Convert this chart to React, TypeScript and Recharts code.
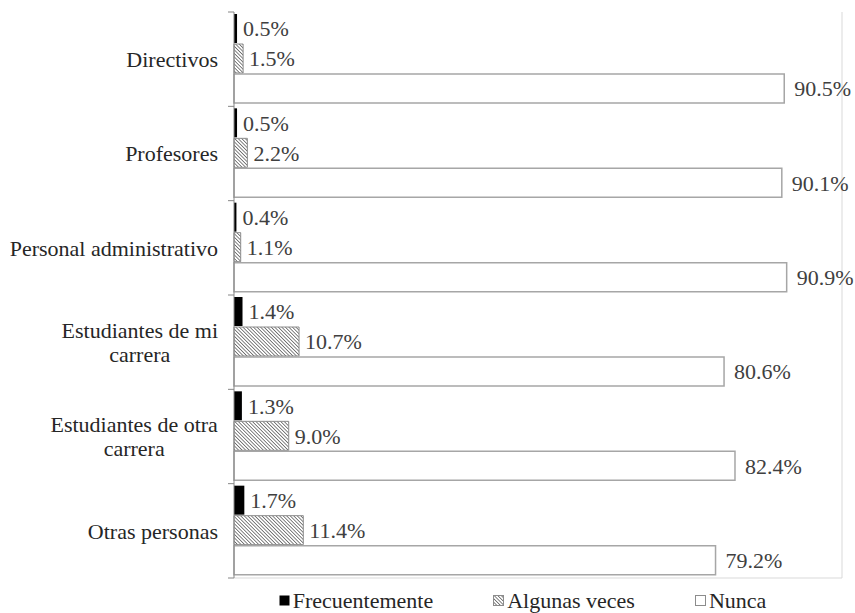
import React, { useLayoutEffect, useRef, useState } from "react";
import { Bar, BarChart, LabelList, Legend, ReferenceLine, XAxis, YAxis } from "recharts";

const categories = [
  "Directivos",
  "Profesores",
  "Personal administrativo",
  "Estudiantes de mi\ncarrera",
  "Estudiantes de otra\ncarrera",
  "Otras personas",
];
const frecuentemente = [0.5, 0.5, 0.4, 1.4, 1.3, 1.7];
const algunasVeces = [1.5, 2.2, 1.1, 10.7, 9.0, 11.4];
const nunca = [90.5, 90.1, 90.9, 80.6, 82.4, 79.2];

const data = categories.map((name, i) => ({
  name,
  frecuentemente: frecuentemente[i],
  algunasVeces: algunasVeces[i],
  nunca: nunca[i],
}));

const FONT = "Liberation Serif";
const AXIS_GRAY = "#868686";
const PLOT_TOP = 12;
const PLOT_HEIGHT = 566;
const BAND = PLOT_HEIGHT / categories.length;

// etiqueta de categoría: bloque centrado, alineado a la derecha del eje
function CategoryTick(props: any) {
  const { x, y, payload, index } = props;
  const ref = useRef<SVGTextElement>(null);
  const [w, setW] = useState(0);
  const lines: string[] = String(payload.value).split("\n");
  useLayoutEffect(() => {
    if (ref.current) setW(ref.current.getBBox().width);
  }, [payload.value]);
  const right = x - 16;
  const lh = 24;
  return (
    <g>
      <line x1={x - 6} x2={x} y1={y - BAND / 2} y2={y - BAND / 2} stroke={AXIS_GRAY} />
      {index === categories.length - 1 && (
        <line x1={x - 6} x2={x} y1={y + BAND / 2} y2={y + BAND / 2} stroke={AXIS_GRAY} />
      )}
      <text ref={ref} textAnchor="middle" style={{ fontFamily: FONT, fontSize: 22 }} fill="#262626">
        {lines.map((l, i) => (
          <tspan key={i} x={right - w / 2} y={y + (i - (lines.length - 1) / 2) * lh} dy="0.35em">
            {l}
          </tspan>
        ))}
      </text>
    </g>
  );
}

const pct = (v: any) => `${Number(v).toFixed(1)}%`;

const legendItems = [
  { label: "Frecuentemente", fill: "#000", stroke: "none" },
  { label: "Algunas veces", fill: "url(#hatch)", stroke: "#8c8c8c" },
  { label: "Nunca", fill: "#fff", stroke: "#8c8c8c" },
];

function LegendContent() {
  return (
    <div
      style={{
        display: "flex",
        justifyContent: "center",
        alignItems: "center",
        height: 24,
        paddingLeft: 190,
        fontFamily: FONT,
        fontSize: 22,
        color: "#262626",
        gap: 60,
      }}
    >
      {legendItems.map((it) => (
        <div key={it.label} style={{ display: "flex", alignItems: "center" }}>
          <svg width={13} height={12} style={{ marginRight: 1 }}>
            <rect x={0.5} y={0.5} width={10} height={10} fill={it.fill} stroke={it.stroke} />
          </svg>
          <span>{it.label}</span>
        </div>
      ))}
    </div>
  );
}

const labelStyle = { fontFamily: FONT, fontSize: 22 };

export default function App() {
  return (
    <div style={{ position: "absolute", left: 0, top: 0, width: 855, height: 613, background: "#fff" }}>
      <svg width={0} height={0} style={{ position: "absolute" }}>
        <defs>
          <pattern id="hatch" width={2.5} height={2.5} patternUnits="userSpaceOnUse" patternTransform="rotate(-45)">
            <rect width={2.5} height={2.5} fill="#fff" />
            <line x1={0} y1={0} x2={0} y2={2.5} stroke="#5a5a5a" strokeWidth={1.5} />
          </pattern>
        </defs>
      </svg>
      <BarChart
        width={855}
        height={613}
        data={data}
        layout="vertical"
        margin={{ top: PLOT_TOP, right: 13, left: 0, bottom: 0 }}
        barCategoryGap={2}
        barGap={1}
        style={{ fontFamily: FONT }}
      >
        <XAxis type="number" domain={[0, 100]} tick={false} tickLine={false} axisLine={{ stroke: "#d9d9d9" }} height={11} />
        <YAxis
          type="category"
          dataKey="name"
          width={234}
          axisLine={{ stroke: AXIS_GRAY }}
          tickLine={false}
          tickSize={0}
          tickMargin={0}
          interval={0}
          tick={<CategoryTick />}
        />
        <ReferenceLine x={100} stroke="#d9d9d9" />
        <Bar dataKey="frecuentemente" name="Frecuentemente" fill="#000" isAnimationActive={false}>
          <LabelList dataKey="frecuentemente" position="right" offset={6} formatter={pct} style={labelStyle} fill="#404040" />
        </Bar>
        <Bar dataKey="algunasVeces" name="Algunas veces" fill="url(#hatch)" stroke="#8c8c8c" strokeWidth={1} isAnimationActive={false}>
          <LabelList dataKey="algunasVeces" position="right" offset={6} formatter={pct} style={labelStyle} fill="#404040" />
        </Bar>
        <Bar dataKey="nunca" name="Nunca" fill="#fff" stroke="#a6a6a6" strokeWidth={1.5} isAnimationActive={false}>
          <LabelList dataKey="nunca" position="right" offset={10} formatter={pct} style={labelStyle} fill="#404040" />
        </Bar>
        <Legend verticalAlign="bottom" content={<LegendContent />} wrapperStyle={{ left: 0, width: 855 }} />
      </BarChart>
    </div>
  );
}
